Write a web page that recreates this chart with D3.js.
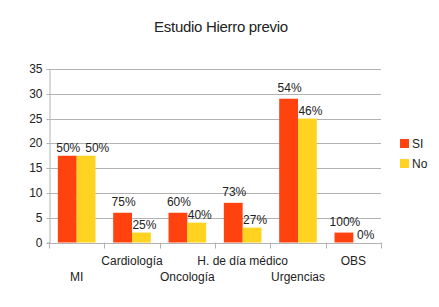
<!DOCTYPE html>
<html><head><meta charset="utf-8">
<script src="https://cdn.jsdelivr.net/npm/d3@7"></script>
<style>body{margin:0;background:#fff}text{font-family:"Liberation Sans",Arial,sans-serif;fill:#222}</style>
</head><body><svg id="c" width="439" height="307"></svg>
<script>
const categories = ["MI","Cardiología","Oncología","H. de día médico","Urgencias","OBS"];
const seriesNames = ["SI","No"];
const siValues = [17.5,6,6,8,29,2];
const noValues = [17.5,2,4,3,25,0];
const siLabels = ["50%","75%","60%","73%","54%","100%"];
const noLabels = ["50%","25%","40%","27%","46%","0%"];
const yTicks = [0,5,10,15,20,25,30,35];
const colors = ["#ff420e","#ffd320"];

const svg = d3.select("#c");
const L=49,R=381,T=69,B=242.5;
const x = d3.scaleBand().domain(categories).range([L,R]).paddingInner(0.32).paddingOuter(0.16);
const xb = d3.scaleBand().domain(categories).range([L,R]);
const xs = d3.scaleBand().domain(seriesNames).range([0,x.bandwidth()]);
const y = d3.scaleLinear().domain([0,35]).range([B,T]);

svg.append("text").attr("x",221).attr("y",32).attr("text-anchor","middle").style("font-size","15px").style("letter-spacing","-0.3px").text("Estudio Hierro previo");

// gridlines
svg.append("g").selectAll("line").data(yTicks).join("line")
  .attr("x1",L).attr("x2",R).attr("y1",d=>Math.round(y(d))+0.5).attr("y2",d=>Math.round(y(d))+0.5)
  .attr("stroke","#b3b3b3");
// y axis
const ya = svg.append("g").attr("transform",`translate(${L+0.5},0)`).call(d3.axisLeft(y).tickValues(yTicks).tickSize(3).tickPadding(4));
ya.select(".domain").attr("stroke","#b3b3b3");
ya.selectAll(".tick line").attr("stroke","#b3b3b3");
ya.selectAll(".tick").attr("transform",d=>`translate(0,${Math.round(y(d))+0.5})`);
ya.selectAll("text").style("font-size","12px").attr("fill","#222").style("font-family","Liberation Sans, Arial, sans-serif");

// x axis boundary ticks
const bounds = categories.map(c=>xb(c)).concat([R]);
svg.append("g").selectAll("line").data(bounds).join("line")
  .attr("x1",d=>Math.round(d)+0.5).attr("x2",d=>Math.round(d)+0.5).attr("y1",B).attr("y2",B+6).attr("stroke","#b3b3b3");
svg.append("line").attr("x1",L).attr("x2",R).attr("y1",Math.round(B)+0.5).attr("y2",Math.round(B)+0.5).attr("stroke","#b3b3b3");

// x labels staggered
svg.append("g").selectAll("text").data(categories).join("text")
  .attr("x",d=>xb(d)+xb.bandwidth()/2).attr("y",(d,i)=>i%2===0?281:265)
  .attr("text-anchor","middle").style("font-size","12px").text(d=>d);

// bars
const data = categories.map((c,i)=>({c,vals:[siValues[i],noValues[i]],labs:[siLabels[i],noLabels[i]]}));
const g = svg.append("g");
data.forEach(d=>{
  seriesNames.forEach((s,j)=>{
    g.append("rect").attr("x",x(d.c)+xs(s)).attr("width",xs.bandwidth())
      .attr("y",y(d.vals[j])).attr("height",B-y(d.vals[j])).attr("fill",colors[j]);
  });
});
// labels
const lg = svg.append("g").style("font-size","12px");
data.forEach(d=>{
  const cx0 = x(d.c)+xs("SI")+xs.bandwidth()/2+1;
  let cy0 = y(d.vals[0])-11;
  const t0 = lg.append("text").attr("x",cx0).attr("text-anchor","middle").text(d.labs[0]);
  const w0 = t0.node().getComputedTextLength();
  let cx1 = x(d.c)+xs("No")+xs.bandwidth()/2+3;
  const cy1 = y(d.vals[1])-8;
  const t1 = lg.append("text").attr("y",cy1+4.5).attr("text-anchor","middle").text(d.labs[1]);
  const w1 = t1.node().getComputedTextLength();
  if (Math.abs(cy1-cy0)<6 && cx1-w1/2 < cx0+w0/2+4) { cx1 = cx0+w0/2+5+w1/2; cy0 = cy1; }
  t0.attr("y",cy0+4.5);
  t1.attr("x",cx1);
});

// legend
const leg = svg.append("g").attr("transform","translate(400,139)");
seriesNames.forEach((s,i)=>{
  leg.append("rect").attr("x",0).attr("y",i*20).attr("width",9).attr("height",9).attr("fill",colors[i]);
  leg.append("text").attr("x",12).attr("y",i*20+9).style("font-size","12px").text(s);
});
</script></body></html>
